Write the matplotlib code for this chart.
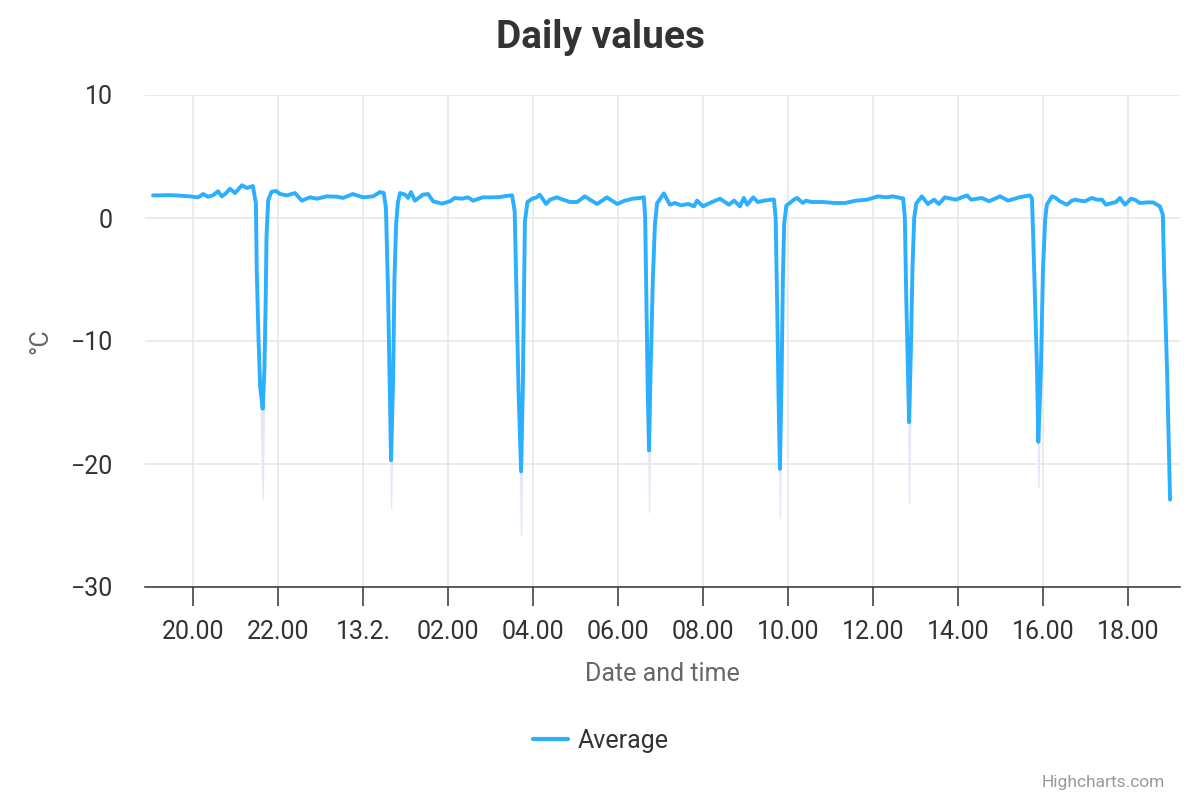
import matplotlib
matplotlib.use("Agg")
import matplotlib.pyplot as plt
import numpy as np

plt.rcParams['font.family'] = ['Roboto', 'DejaVu Sans']

# time in hours counted from 12.2. 00:00, temperature in degrees C
hours = [19.06, 19.22, 19.41, 19.58, 19.76, 19.93, 20.12, 20.24, 20.35, 20.47,
         20.59, 20.68, 20.78, 20.87, 20.99, 21.06, 21.15, 21.27, 21.34, 21.41,
         21.48, 21.50, 21.54, 21.58, 21.64, 21.68, 21.71, 21.73, 21.77, 21.85,
         21.95, 22.05, 22.21, 22.40, 22.56, 22.75, 22.92, 23.15, 23.39, 23.53,
         23.76, 24.00, 24.24, 24.40, 24.49, 24.54, 24.59, 24.63, 24.66, 24.71,
         24.74, 24.78, 24.82, 24.87, 24.99, 25.06, 25.13, 25.22, 25.41, 25.53,
         25.65, 25.86, 26.05, 26.16, 26.33, 26.47, 26.59, 26.82, 27.04, 27.22,
         27.39, 27.51, 27.57, 27.61, 27.66, 27.72, 27.76, 27.79, 27.81, 27.87,
         27.98, 28.09, 28.16, 28.31, 28.40, 28.56, 28.71, 28.87, 29.04, 29.22,
         29.34, 29.51, 29.74, 29.98, 30.16, 30.35, 30.52, 30.61, 30.64, 30.67,
         30.70, 30.73, 30.77, 30.82, 30.87, 30.92, 31.08, 31.22, 31.34, 31.48,
         31.65, 31.79, 31.86, 32.00, 32.21, 32.40, 32.61, 32.73, 32.87, 32.96,
         33.04, 33.18, 33.29, 33.44, 33.60, 33.67, 33.71, 33.75, 33.78, 33.81,
         33.85, 33.88, 33.91, 33.96, 34.14, 34.21, 34.35, 34.42, 34.56, 34.82,
         35.08, 35.34, 35.60, 35.86, 36.12, 36.31, 36.47, 36.64, 36.71, 36.75,
         36.78, 36.82, 36.85, 36.89, 36.93, 36.97, 37.02, 37.15, 37.29, 37.44,
         37.55, 37.69, 37.95, 38.21, 38.31, 38.56, 38.73, 38.99, 39.18, 39.44,
         39.69, 39.74, 39.77, 39.86, 39.89, 39.95, 40.00, 40.05, 40.09, 40.21,
         40.28, 40.40, 40.56, 40.68, 40.75, 40.87, 40.99, 41.15, 41.27, 41.39,
         41.48, 41.62, 41.72, 41.81, 41.93, 42.07, 42.16, 42.28, 42.45, 42.59,
         42.75, 42.82, 42.85, 42.92, 42.99]

avg = [1.84, 1.84, 1.86, 1.84, 1.80, 1.76, 1.68, 1.95, 1.73, 1.84,
       2.17, 1.76, 2.03, 2.38, 2.03, 2.30, 2.66, 2.44, 2.52, 2.60,
       1.2, -4.2, -9.6, -13.7, -15.5, -12.4, -6.9, -1.5, 1.46, 2.14,
       2.20, 1.95, 1.84, 2.03, 1.41, 1.68, 1.57, 1.76, 1.73, 1.63,
       1.95, 1.68, 1.76, 2.11, 2.03, 0.8, -6.0, -14.0, -19.7, -13.0,
       -5.0, -0.5, 1.2, 2.03, 1.90, 1.63, 2.11, 1.41, 1.90, 1.95,
       1.36, 1.17, 1.36, 1.63, 1.57, 1.68, 1.41, 1.68, 1.68, 1.70,
       1.80, 1.84, 0.5, -6.0, -14.0, -20.6, -14.0, -6.0, -0.27, 1.30,
       1.57, 1.68, 1.90, 1.14, 1.49, 1.68, 1.49, 1.30, 1.30, 1.76,
       1.49, 1.14, 1.68, 1.14, 1.41, 1.57, 1.63, 1.68, 0.0, -7.0,
       -14.0, -18.9, -12.0, -5.0, -0.5, 1.2, 2.0, 1.08, 1.22, 1.03,
       1.14, 0.95, 1.41, 0.95, 1.30, 1.57, 1.08, 1.41, 0.95, 1.63,
       1.08, 1.68, 1.30, 1.41, 1.49, 1.50, 0.0, -8.0, -15.0, -20.4,
       -13.0, -5.0, -0.5, 1.0, 1.49, 1.63, 1.22, 1.41, 1.30, 1.30,
       1.22, 1.22, 1.41, 1.49, 1.76, 1.68, 1.76, 1.63, 1.60, 0.0,
       -6.0, -12.0, -16.6, -11.0, -4.0, 0.0, 1.2, 1.76, 1.14, 1.49,
       1.14, 1.68, 1.49, 1.84, 1.49, 1.63, 1.36, 1.76, 1.41, 1.68,
       1.84, 1.60, -1.5, -12.4, -18.2, -12.4, -4.2, -0.2, 1.08, 1.76,
       1.68, 1.36, 1.08, 1.41, 1.49, 1.41, 1.36, 1.63, 1.49, 1.49,
       1.08, 1.22, 1.30, 1.63, 1.08, 1.57, 1.49, 1.22, 1.27, 1.27,
       0.95, 0.27, -4.3, -12.5, -22.9]

# lowest readings of the min/max range at the defrost minima
dip_hours = [21.64, 24.66, 27.72, 30.73, 33.81, 36.85, 39.89]
dip_low = [-22.8, -23.6, -25.8, -23.9, -24.4, -23.2, -21.9]

tick_hours = [20, 22, 24, 26, 28, 30, 32, 34, 36, 38, 40, 42]
tick_labels = ["20.00", "22.00", "13.2.", "02.00", "04.00", "06.00",
               "08.00", "10.00", "12.00", "14.00", "16.00", "18.00"]

# range low follows the average except at the minima
range_low = np.array(avg)
for h, lo in zip(dip_hours, dip_low):
    range_low[hours.index(h)] = lo

fig = plt.figure(figsize=(12, 8), dpi=100)
ax = fig.add_axes([145/1200, 1 - 587/800, 1035/1200, 492/800])

ax.fill_between(hours, range_low, avg, facecolor='#e9e5f9', edgecolor='#e9e5f9',
                linewidth=1.0, zorder=2)
ax.plot(hours, avg, color='#2caffe', linewidth=2.8, solid_joinstyle='round',
        solid_capstyle='round', label='Average', zorder=3)

ax.set_xlim(18.871, 43.224)
ax.set_ylim(-30, 10)
ax.set_yticks([-30, -20, -10, 0, 10])
ax.set_yticklabels(["\u221230", "\u221220", "\u221210", "0", "10"])
ax.set_xticks(tick_hours)
ax.set_xticklabels(tick_labels)

ax.grid(True, color='#e6e6e6', linewidth=1.1, zorder=0)
ax.set_axisbelow(True)
for side in ['top', 'right', 'left']:
    ax.spines[side].set_visible(False)
ax.spines['bottom'].set_color('#333333')
ax.spines['bottom'].set_linewidth(1.1)

ax.tick_params(axis='y', length=0, pad=23, labelsize=18, labelcolor='#333333')
ax.tick_params(axis='x', length=14, width=1.1, color='#333333', pad=10,
               labelsize=18, labelcolor='#333333')

ax.set_xlabel("Date and time", fontsize=18, color='#666666', labelpad=13)
ax.set_ylabel("\u00b0C", fontsize=18, color='#666666', labelpad=13)

fig.text(0.5, 1 - 37/800, "Daily values", ha='center', va='center',
         fontsize=28, fontweight='bold', color='#333333')

leg = fig.legend(loc='center', bbox_to_anchor=(601/1200, 1 - 741/800),
                 frameon=False, fontsize=18, handlelength=1.4,
                 handletextpad=0.4)
for t in leg.get_texts():
    t.set_color('#333333')
for ln in leg.get_lines():
    ln.set_linewidth(3)

fig.text(1165/1200, 1 - 783/800, "Highcharts.com", ha='right', va='center',
         fontsize=12.5, color='#999999')

fig.savefig("out.png", dpi=100)
